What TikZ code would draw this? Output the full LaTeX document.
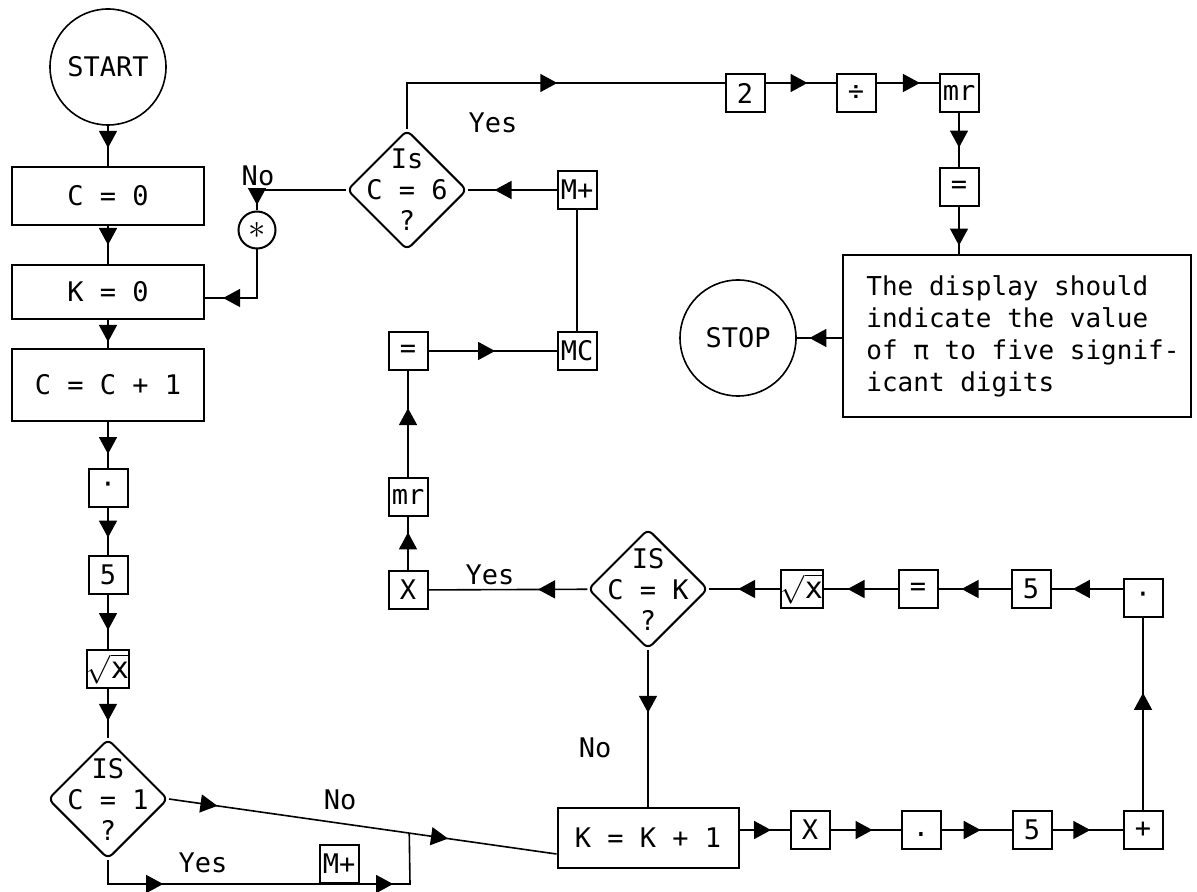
\documentclass[tikz,border=0pt]{standalone}
\usepackage{fontspec}
\setmainfont{DejaVu Sans Mono}[WordSpace={1,0,0}]
\usetikzlibrary{arrows.meta,shapes.geometric,decorations.markings,calc}
\tikzset{flowtip/.tip={Triangle[length=8.5pt,width=9pt]}}

\begin{document}
\begin{tikzpicture}[
  x=0.5pt, y=-0.5pt,
  font=\fontsize{13.5}{15.5}\selectfont,
  box/.style={draw, line width=1pt, minimum width=96pt, inner sep=0pt},
  key/.style={draw, line width=1pt, minimum width=19.5pt, minimum height=19pt, inner sep=0pt},
  term/.style={circle, draw, line width=0.8pt, minimum size=58pt, inner sep=0pt},
  decide/.style={diamond, draw, line width=1pt, rounded corners=3pt, minimum width=60pt, minimum height=60pt, inner sep=0pt},
  wire/.style={line width=0.8pt},
  flow/.style={wire, postaction={decorate}, decoration={markings, mark=at position #1 with {\arrow{flowtip}}}},
  flow/.default=0.6,
  flowtwo/.style 2 args={wire, postaction={decorate}, decoration={markings,
    mark=at position #1 with {\arrow{flowtip}}, mark=at position #2 with {\arrow{flowtip}}}},
]
\useasboundingbox (0,0) rectangle (1197,892);

% left column
\node[term] (start) at (108,67) {START};
\node[box, minimum height=29pt] (C0) at (108,196) {C = 0};
\node[box, minimum height=27pt] (K0) at (108,292) {K = 0};
\node[box, minimum height=35.5pt] (Cinc) at (108,385) {C = C + 1};
\node[key] (ptA) at (108,488) {·};
\node[key] (fiveA) at (108,575) {5};
\node[key] (sqA) at (108,669) {\fontsize{15}{15}\selectfont$\sqrt{\mbox{x}}$};
\node[decide] (C1) at (108,799) {};
\node[align=center] (C1t) at (C1) {IS\\C = 1\\?};

\draw[flow=0.55] (start) -- (C0);
\draw[flow=0.5] (C0) -- (K0);
\draw[flow=0.77] (K0) -- (Cinc);
\draw[flow=0.7] (Cinc) -- (ptA);
\draw[flow=0.63] (ptA) -- (fiveA);
\draw[flow=0.65] (fiveA) -- (sqA);
\draw[flow=0.65] (sqA) -- (C1);

% C = 1 branches
\node (noA) at (340,800) {No};
\node (yesA) at (203,863) {Yes};
\node[box, minimum width=90.5pt, minimum height=30pt] (Kinc) at (648,838) {K = K + 1};
\coordinate (joinA) at ($(C1.east)!0.62!([yshift=-8pt]Kinc.west)$);
\coordinate (turnA) at (410,884);
\node[key, anchor=south] (mplusA) at (339,884) {M+};
\draw[flowtwo={0.125}{0.72}] (C1.east) -- ([yshift=-8pt]Kinc.west);
\draw[flowtwo={0.21}{0.82}] (C1.south) |- (turnA) -- (joinA);

% bottom row
\node[key] (xB) at (810,830) {X};
\node[key, text height=6pt, text depth=0pt] (ptB) at (921,830) {.};
\node[key] (fiveB) at (1032,830) {5};
\node[key] (plus) at (1143,830) {+};
\draw[flow=0.63] (Kinc.east |- xB) -- (xB);
\draw[flow=0.6] (xB) -- (ptB);
\draw[flow=0.56] (ptB) -- (fiveB);
\draw[flow=0.54] (fiveB) -- (plus);

% middle row
\node[key] (ptC) at (1143,598) {·};
\node[key] (fiveC) at (1031,589) {5};
\node[key] (eqC) at (918,589) {=};
\node[key] (sqC) at (802,589) {\fontsize{15}{15}\selectfont$\sqrt{\mbox{x}}$};
\node[decide] (CK) at (648,589) {};
\node[align=center] (CKt) at (CK) {IS\\C = K\\?};
\draw[flow=0.61] (plus) -- (ptC);
\draw[flow=0.7] (ptC.west |- fiveC) -- (fiveC);
\draw[flow=0.68] (fiveC) -- (eqC);
\draw[flow=0.68] (eqC) -- (sqC);
\draw[flow=0.59] (sqC) -- (CK);
\node (noB) at (595,748) {No};
\draw[flow=0.4] (CK) -- (Kinc);

% memory loop
\node (yesB) at (490,575) {Yes};
\node[key] (xC) at (408,590) {X};
\node[key] (mrA) at (408,497) {mr};
\node[key] (eqA) at (408,351) {=};
\node[key] (mc) at (577,351) {MC};
\node[key] (mplusB) at (577,190) {M+};
\node[decide] (C6) at (407,190) {};
\node[align=center] (C6t) at (C6) {Is\\C = 6\\?};
\draw[flow=0.31] (CK) -- (xC);
\draw[flow=0.71] (xC) -- (mrA);
\draw[flow=0.65] (mrA) -- (eqA);
\draw[flow=0.52] (eqA) -- (mc);
\draw[wire] (mc) -- (mplusB);
\draw[flow=0.7] (mplusB) -- (C6);

% C = 6 no
\node[circle, draw, line width=1pt, minimum size=18.5pt, inner sep=0pt,
  font=\fontsize{18}{18}\selectfont] (star) at (257,230) {$\ast$};
\node (noC) at (258,176) {No};
\draw[flow=0.95] (C6.west) -| (star);
\draw[flow=0.82] (star) |- ([yshift=-3pt]K0.east);

% C = 6 yes
\node (yesC) at (493,123) {Yes};
\node[key] (two) at (745,93) {2};
\node[key] (dv) at (856,93) {÷};
\node[key] (mrB) at (959,93) {mr};
\node[key] (eqB) at (959,187) {=};
\draw[flow=0.54] (C6.north) |- ([yshift=5pt]two.west);
\draw[flow=0.6] ([yshift=5pt]two.east) -- ([yshift=5pt]dv.west);
\draw[flow=0.7] ([yshift=5pt]dv.east) -- ([yshift=5pt]mrB.west);
\draw[flow=0.64] (mrB) -- (eqB);

\node[box, minimum width=174pt, minimum height=81pt] (msg) at (1017,336) {};
\node[align=left, anchor=west, inner sep=0pt, font=\fontsize{13}{16}\selectfont]
  (msgt) at ([xshift=12pt]msg.west)
  {The display should\\indicate the value\\of π to five signif-\\icant digits};
\node[term] (stop) at (738,338) {STOP};
\draw[flow=0.82] (eqB) -- (eqB |- msg.north);
\draw[flow=0.72] (msg.west |- stop) -- (stop);
\end{tikzpicture}
\end{document}
